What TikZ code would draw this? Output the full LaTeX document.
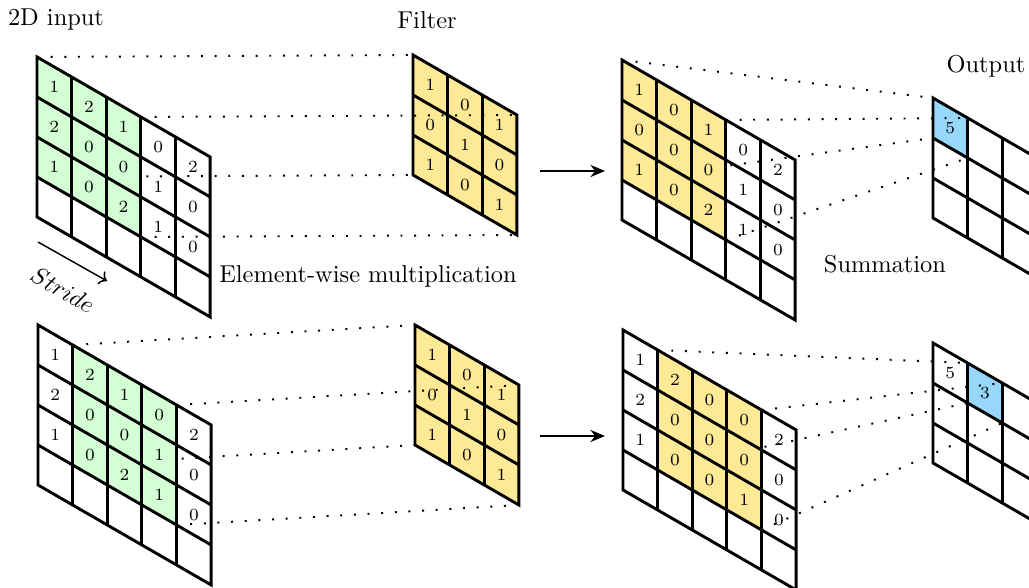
\documentclass[tikz,border=0pt]{standalone}
\usetikzlibrary{arrows.meta}

\pgfdeclarelayer{behind}
\pgfdeclarelayer{between}
\pgfsetlayers{behind,between,main}

\begin{document}
\begin{tikzpicture}[x=0.0144cm,y=-0.0144cm]

% Cell colours
\definecolor{inputgreen}{RGB}{212,255,212}
\definecolor{kernelyellow}{RGB}{253,233,150}
\definecolor{outputblue}{RGB}{150,215,250}

\tikzset{
  cellaxes/.style={x={(34.64,20)}, y={(0,40)}},
  gridline/.style={line width=1.2pt},
  cellnum/.style={font=\scriptsize, inner sep=0pt},
  projline/.style={line width=0.8pt, dash pattern=on 0.8pt off 4.8pt},
  flow/.style={-{Stealth[length=6pt,width=5pt]}, line width=0.6pt}
}

\useasboundingbox (0,0) rectangle (1029,588);

% Labels
\node (inputlabel) at (56,20) {2D input};
\node (filterlabel) at (427,20) {Filter};
\node (outputlabel) at (986,66) {Output};
\node (multlabel) at (368,276) {Element-wise multiplication};
\node (sumlabel) at (885,264) {Summation};

% Stride arrow
\coordinate (stride-a) at (38,242);
\coordinate (stride-b) at (107,281);
\draw[->, line width=0.6pt] (stride-a) -- (stride-b);
\node[rotate=-30, inner sep=1pt] (stridelabel) at (63,290) {$Stride$};

\begin{pgfonlayer}{behind}

% Filter, first step
\begin{scope}[shift={(413,55)}, cellaxes]
  \fill[kernelyellow] (0,0) -- (3,0) -- (3,3) -- (0,3) -- cycle;
  \draw[gridline] (0,0) -- (3,0) -- (3,3) -- (0,3) -- cycle;
  \foreach \k in {1,2} {
    \draw[gridline] (\k,0) -- (\k,3);
    \draw[gridline] (0,\k) -- (3,\k);
  }
  \foreach \i/\a/\b/\c in {0/1/0/1,1/0/1/0,2/1/0/1}
    \foreach \j/\v in {0/\a,1/\b,2/\c}
      \node[cellnum] (tf-\i-\j) at (\i+.5,\j+.5) {\v};
  \coordinate (tf-nw) at (0,0);
  \coordinate (tf-ne) at (3,0);
  \coordinate (tf-sw) at (0,3);
  \coordinate (tf-se) at (3,3);
\end{scope}

% Filter, second step
\begin{scope}[shift={(415,325)}, cellaxes]
  \fill[kernelyellow] (0,0) -- (3,0) -- (3,3) -- (0,3) -- cycle;
  \draw[gridline] (0,0) -- (3,0) -- (3,3) -- (0,3) -- cycle;
  \foreach \k in {1,2} {
    \draw[gridline] (\k,0) -- (\k,3);
    \draw[gridline] (0,\k) -- (3,\k);
  }
  \foreach \i/\a/\b/\c in {0/1/0/1,1/0/1/0,2/1/0/1}
    \foreach \j/\v in {0/\a,1/\b,2/\c}
      \node[cellnum] (bf-\i-\j) at (\i+.5,\j+.5) {\v};
  \coordinate (bf-nw) at (0,0);
  \coordinate (bf-ne) at (3,0);
  \coordinate (bf-sw) at (0,3);
  \coordinate (bf-se) at (3,3);
\end{scope}

% Output, first step
\begin{scope}[shift={(933,98)}, cellaxes]
  \fill[outputblue] (0,0) -- (1,0) -- (1,1) -- (0,1) -- cycle;
  \draw[gridline] (0,0) -- (3,0) -- (3,3) -- (0,3) -- cycle;
  \foreach \k in {1,2} {
    \draw[gridline] (\k,0) -- (\k,3);
    \draw[gridline] (0,\k) -- (3,\k);
  }
  \node[cellnum] (to-0-0) at (.5,.5) {5};
  \coordinate (to-nw) at (0,0);
  \coordinate (to-ne) at (1,0);
  \coordinate (to-sw) at (0,1);
  \coordinate (to-se) at (1,1);
\end{scope}

% Output, second step
\begin{scope}[shift={(933,343)}, cellaxes]
  \fill[outputblue] (1,0) -- (2,0) -- (2,1) -- (1,1) -- cycle;
  \draw[gridline] (0,0) -- (3,0) -- (3,3) -- (0,3) -- cycle;
  \foreach \k in {1,2} {
    \draw[gridline] (\k,0) -- (\k,3);
    \draw[gridline] (0,\k) -- (3,\k);
  }
  \node[cellnum] (bo-0-0) at (.5,.5) {5};
  \node[cellnum] (bo-1-0) at (1.5,.5) {3};
  \coordinate (bo-nw) at (1,0);
  \coordinate (bo-ne) at (2,0);
  \coordinate (bo-sw) at (1,1);
  \coordinate (bo-se) at (2,1);
\end{scope}

\end{pgfonlayer}

% 2D input, first step
\begin{scope}[shift={(37,57)}, cellaxes]
  \fill[inputgreen] (0,0) -- (3,0) -- (3,3) -- (0,3) -- cycle;
  \draw[gridline] (0,0) -- (5,0) -- (5,4) -- (0,4) -- cycle;
  \foreach \k in {1,...,4} \draw[gridline] (\k,0) -- (\k,4);
  \foreach \k in {1,2,3} \draw[gridline] (0,\k) -- (5,\k);
  \foreach \i/\a/\b/\c in {0/1/2/1,1/2/0/0,2/1/0/2,3/0/1/1,4/2/0/0}
    \foreach \j/\v in {0/\a,1/\b,2/\c}
      \node[cellnum] (ti-\i-\j) at (\i+.5,\j+.5) {\v};
  \coordinate (ti-nw) at (0,0);
  \coordinate (ti-ne) at (3,0);
  \coordinate (ti-sw) at (0,3);
  \coordinate (ti-se) at (3,3);
\end{scope}

% 2D input, second step
\begin{scope}[shift={(38,325)}, cellaxes]
  \fill[inputgreen] (1,0) -- (4,0) -- (4,3) -- (1,3) -- cycle;
  \draw[gridline] (0,0) -- (5,0) -- (5,4) -- (0,4) -- cycle;
  \foreach \k in {1,...,4} \draw[gridline] (\k,0) -- (\k,4);
  \foreach \k in {1,2,3} \draw[gridline] (0,\k) -- (5,\k);
  \foreach \i/\a/\b/\c in {0/1/2/1,1/2/0/0,2/1/0/2,3/0/1/1,4/2/0/0}
    \foreach \j/\v in {0/\a,1/\b,2/\c}
      \node[cellnum] (bi-\i-\j) at (\i+.5,\j+.5) {\v};
  \coordinate (bi-nw) at (1,0);
  \coordinate (bi-ne) at (4,0);
  \coordinate (bi-sw) at (1,3);
  \coordinate (bi-se) at (4,3);
\end{scope}

% Products, first step
\begin{scope}[shift={(622,60)}, cellaxes]
  \fill[kernelyellow] (0,0) -- (3,0) -- (3,3) -- (0,3) -- cycle;
  \draw[gridline] (0,0) -- (5,0) -- (5,4) -- (0,4) -- cycle;
  \foreach \k in {1,...,4} \draw[gridline] (\k,0) -- (\k,4);
  \foreach \k in {1,2,3} \draw[gridline] (0,\k) -- (5,\k);
  \foreach \i/\a/\b/\c in {0/1/0/1,1/0/0/0,2/1/0/2,3/0/1/1,4/2/0/0}
    \foreach \j/\v in {0/\a,1/\b,2/\c}
      \node[cellnum] (tp-\i-\j) at (\i+.5,\j+.5) {\v};
  \coordinate (tp-nw) at (0,0);
  \coordinate (tp-ne) at (3,0);
  \coordinate (tp-sw) at (0,3);
  \coordinate (tp-se) at (3,3);
\end{scope}

% Products, second step
\begin{scope}[shift={(623,330)}, cellaxes]
  \fill[kernelyellow] (1,0) -- (4,0) -- (4,3) -- (1,3) -- cycle;
  \draw[gridline] (0,0) -- (5,0) -- (5,4) -- (0,4) -- cycle;
  \foreach \k in {1,...,4} \draw[gridline] (\k,0) -- (\k,4);
  \foreach \k in {1,2,3} \draw[gridline] (0,\k) -- (5,\k);
  \foreach \i/\a/\b/\c in {0/1/2/1,1/2/0/0,2/0/0/0,3/0/0/1,4/2/0/0}
    \foreach \j/\v in {0/\a,1/\b,2/\c}
      \node[cellnum] (bp-\i-\j) at (\i+.5,\j+.5) {\v};
  \coordinate (bp-nw) at (1,0);
  \coordinate (bp-ne) at (4,0);
  \coordinate (bp-sw) at (1,3);
  \coordinate (bp-se) at (4,3);
\end{scope}

% Arrows from filter to products
\coordinate (tarrow-a) at (540,171);
\coordinate (tarrow-b) at (605,171);
\coordinate (barrow-a) at (540,436);
\coordinate (barrow-b) at (605,436);
\draw[flow] (tarrow-a) -- (tarrow-b);
\draw[flow] (barrow-a) -- (barrow-b);

% Dotted projection lines between corners
\begin{pgfonlayer}{between}
\foreach \c in {nw,ne,sw,se} {
  \draw[projline] (ti-\c) -- (tf-\c);
  \draw[projline] (tp-\c) -- (to-\c);
  \draw[projline] (bi-\c) -- (bf-\c);
  \draw[projline] (bp-\c) -- (bo-\c);
}
\end{pgfonlayer}

\end{tikzpicture}
\end{document}
